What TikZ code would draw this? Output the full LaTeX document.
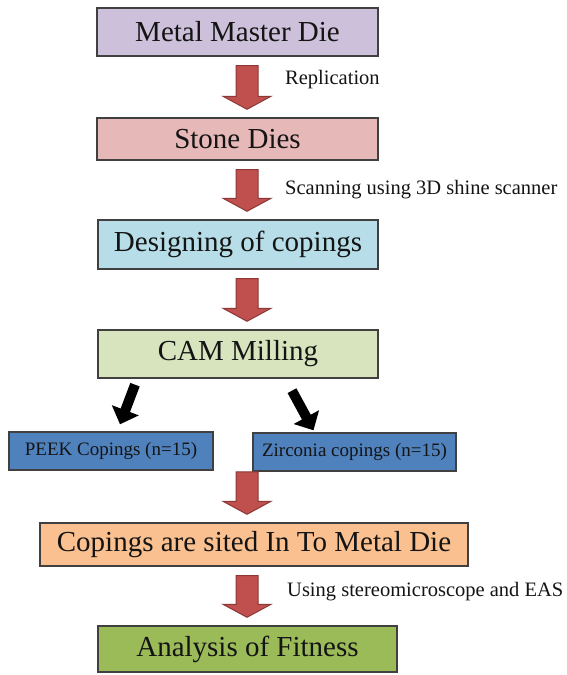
\documentclass[tikz,border=0pt]{standalone}
\usepackage{fontspec}
\setmainfont{Liberation Serif}
\usetikzlibrary{positioning, calc, arrows.meta}

\definecolor{lavbox}{RGB}{204,192,218}
\definecolor{pinkbox}{RGB}{230,185,184}
\definecolor{bluebox}{RGB}{183,222,232}
\definecolor{greenbox}{RGB}{215,228,189}
\definecolor{coping}{RGB}{79,129,189}
\definecolor{orangebox}{RGB}{250,192,144}
\definecolor{fitbox}{RGB}{155,187,89}
\definecolor{arrowred}{RGB}{192,80,77}
\definecolor{arrowedge}{RGB}{140,56,54}
\definecolor{boxedge}{RGB}{64,64,64}

\tikzset{
  stage/.style={draw=boxedge, line width=1.4pt, inner sep=0pt, text=black!92,
    font=\fontsize{29}{32}\selectfont},
  group/.style={stage, fill=coping, minimum height=38pt,
    font=\fontsize{19}{22}\selectfont},
  note/.style={anchor=west, inner sep=0pt, text=black!92,
    font=\fontsize{20.5}{23}\selectfont},
  fatarrowstyle/.style={fill=arrowred, draw=arrowedge, line width=1pt, line join=miter},
  splitarrow/.style={line width=10pt, draw=black,
    -{Triangle[width=28pt, length=15pt]}}
}

% block arrow from top point to tip point
\newcommand{\fatarrow}[2]{%
  \draw[fatarrowstyle] let \p1=(#1), \p2=(#2) in
    (247pt-11pt,\y1-9pt) -- (247pt+11pt,\y1-9pt) -- (247pt+11pt,\y2+21pt)
    -- (247pt+24pt,\y2+21pt) -- (247pt,\y2+8pt) -- (247pt-24pt,\y2+21pt)
    -- (247pt-11pt,\y2+21pt) -- cycle;}

\begin{document}
\begin{tikzpicture}[x=1pt, y=1pt]
    \useasboundingbox (0,0) rectangle (566,675);

    % Main steps
    \node[stage, fill=lavbox, minimum width=281pt, minimum height=48pt] (master) at (237.5,643) {Metal Master Die};
    \node[stage, fill=pinkbox, minimum width=281pt, minimum height=42pt] (stone) at (237.5,536) {Stone Dies};
    \node[stage, fill=bluebox, minimum width=280pt, minimum height=49pt] (design) at (238,430.5) {Designing of copings};
    \node[stage, fill=greenbox, minimum width=280pt, minimum height=48pt] (mill) at (238,321) {CAM Milling};

    % Copings
    \node[group, minimum width=204pt] (peek) at (111,224) {PEEK Copings (n=15)};
    \node[group, minimum width=203pt] (zirc) at (354.5,223) {Zirconia copings (n=15)};
    \coordinate (split) at (247,212);

    \node[stage, fill=orangebox, minimum width=428pt, minimum height=43pt] (sited) at (254,130.5) {Copings are sited In To Metal Die};
    \node[stage, fill=fitbox, minimum width=299pt, minimum height=46pt] (fitness) at (247.5,26) {Analysis of Fitness};

    % Arrows
    \fatarrow{master.south}{stone.north}
    \fatarrow{stone.south}{design.north}
    \fatarrow{design.south}{mill.north}
    \fatarrow{split}{sited.north}
    \fatarrow{sited.south}{fitness.north}

    \draw[splitarrow] ([xshift=-103pt, yshift=-6pt]mill.south) -- ([xshift=9pt, yshift=7pt]peek.north);
    \draw[splitarrow] ([xshift=54pt, yshift=-12pt]mill.south) -- ([xshift=-41pt, yshift=2pt]zirc.north);

    % Notes
    \node[note] (rep) at (285,595) {Replication};
    \node[note] (scan) at (285,485) {Scanning using 3D shine scanner};
    \node[note] (eas) at (287,83) {Using stereomicroscope and EAS};
\end{tikzpicture}
\end{document}
